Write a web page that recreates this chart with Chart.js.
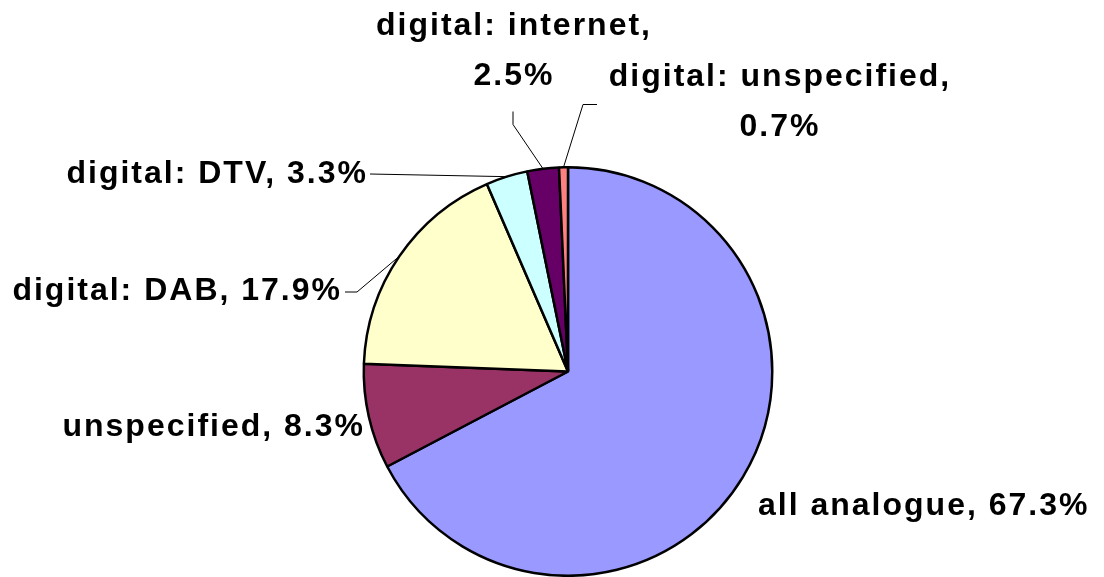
<!DOCTYPE html>
<html>
<head>
<meta charset="utf-8">
<script src="https://cdn.jsdelivr.net/npm/chart.js@4/dist/chart.umd.min.js"></script>
<style>
  html, body { margin: 0; padding: 0; background: #fff; overflow: hidden; }
  #wrap { width: 1104px; height: 577px; position: relative; }
</style>
</head>
<body>
<div id="wrap"><canvas id="c"></canvas></div>
<script>
// ---- data ----
const categories = ["all analogue", "unspecified", "digital: DAB", "digital: DTV", "digital: internet", "digital: unspecified"];
const shares = [67.3, 8.3, 17.9, 3.3, 2.5, 0.7];
const sliceColors = ["#9999FF", "#993366", "#FFFFCC", "#CCFFFF", "#660066", "#FF8080"];

// ---- label layout (offsets from pie centre) ----
const labelLayout = [
  { dx: 190, dy: 135, align: "left", wrap: false, leader: null },
  { dx: -203, dy: 56, align: "right", wrap: false, leader: null },
  { dx: -226, dy: -80, align: "right", wrap: false, leader: [[-223, -79.5], [-211, -79.5]] },
  { dx: -200, dy: -197, align: "right", wrap: false, leader: [[-198, -197.5]] },
  { dx: -54, dy: -345, align: "center", wrap: true, leader: [[-55, -260], [-55, -247]] },
  { dx: 212, dy: -294, align: "center", wrap: true, leader: [[29, -267], [15, -267]] }
];
const FONT = "bold 32px 'Liberation Sans', Arial, sans-serif";
const LINE_GAP = 50;

const labelPlugin = {
  id: "pieLabels",
  afterDatasetsDraw(chart) {
    const ctx = chart.ctx;
    const meta = chart.getDatasetMeta(0);
    ctx.save();
    meta.data.forEach((arc, i) => {
      const p = arc.getProps(["x", "y", "startAngle", "endAngle", "outerRadius"], true);
      const mid = (p.startAngle + p.endAngle) / 2;
      const ex = p.x + Math.cos(mid) * p.outerRadius;
      const ey = p.y + Math.sin(mid) * p.outerRadius;
      const L = labelLayout[i];
      if (L.leader) {
        ctx.beginPath();
        ctx.strokeStyle = "#000";
        ctx.lineWidth = 1;
        L.leader.forEach((pt, k) => {
          const px = p.x + pt[0], py = p.y + pt[1];
          if (k === 0) ctx.moveTo(px, py); else ctx.lineTo(px, py);
        });
        ctx.lineTo(ex, ey);
        ctx.stroke();
      }
      const full = categories[i] + ", " + shares[i].toFixed(1) + "%";
      const lines = L.wrap ? [categories[i] + ",", shares[i].toFixed(1) + "%"] : [full];
      ctx.font = FONT;
      ctx.fillStyle = "#000";
      ctx.textAlign = L.align;
      ctx.textBaseline = "middle";
      try { ctx.letterSpacing = "2px"; } catch (e) {}
      lines.forEach((t, k) => {
        ctx.fillText(t, p.x + L.dx, p.y + L.dy + k * LINE_GAP);
      });
    });
    ctx.restore();
  }
};

new Chart(document.getElementById("c"), {
  type: "pie",
  data: {
    labels: categories,
    datasets: [{
      data: shares,
      backgroundColor: sliceColors,
      borderColor: "#000",
      borderWidth: 2.5
    }]
  },
  options: {
    responsive: true,
    maintainAspectRatio: false,
    animation: false,
    layout: { padding: { left: 362, right: 330, top: 166, bottom: 0 } },
    plugins: { legend: { display: false }, tooltip: { enabled: false } }
  },
  plugins: [labelPlugin]
});
</script>
</body>
</html>
